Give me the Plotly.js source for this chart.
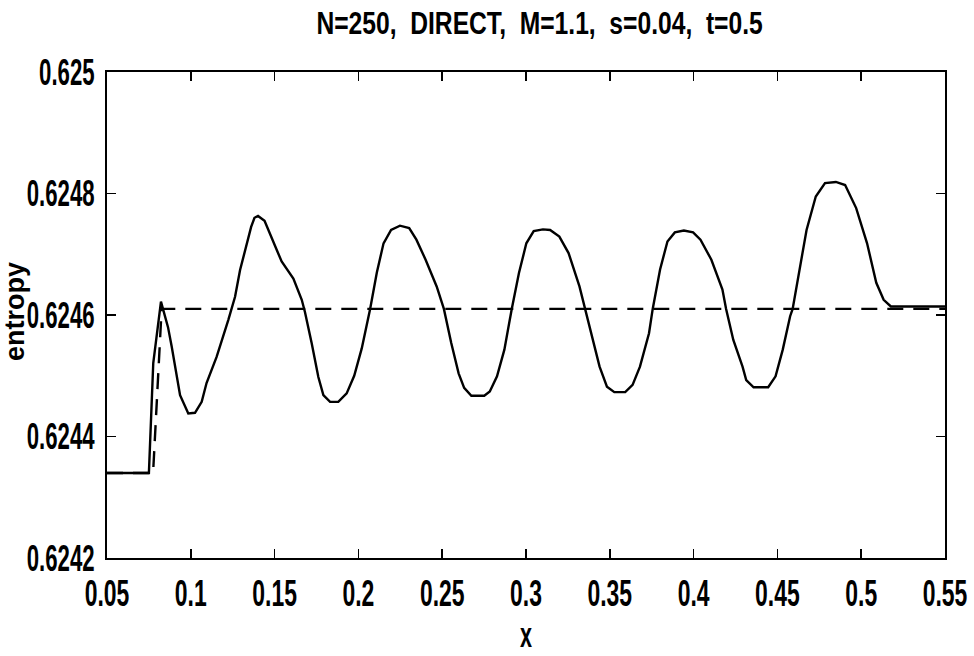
<!DOCTYPE html>
<html>
<head>
<meta charset="utf-8">
<script src="https://cdn.plot.ly/plotly-3.0.1.min.js"></script>
<style>html,body{margin:0;padding:0;background:#fff;}#chart{width:974px;height:656px;}</style>
</head>
<body>
<div id="chart"></div>
<script>
// Solid curve (computed entropy)
const solidX = [0.05, 0.075, 0.0776, 0.0822, 0.0864, 0.0886, 0.0936, 0.0985, 0.1025, 0.1065, 0.1094, 0.1154, 0.1224, 0.1264, 0.1294, 0.1323, 0.1360, 0.1380, 0.1401, 0.1440, 0.1480, 0.1513, 0.1542, 0.1580, 0.1612, 0.1662, 0.1681, 0.1721, 0.1761, 0.1791, 0.1831, 0.1880, 0.1930, 0.1975, 0.2020, 0.2070, 0.2110, 0.2150, 0.2195, 0.2248, 0.2303, 0.2346, 0.2401, 0.2467, 0.2510, 0.2554, 0.2598, 0.2631, 0.2674, 0.2751, 0.2784, 0.2827, 0.2871, 0.2915, 0.2958, 0.3002, 0.3046, 0.3101, 0.3144, 0.3199, 0.3254, 0.3319, 0.3352, 0.3396, 0.3439, 0.3483, 0.3527, 0.3592, 0.3636, 0.3680, 0.3734, 0.3756, 0.3800, 0.3844, 0.3888, 0.3942, 0.3997, 0.4041, 0.4106, 0.4172, 0.4194, 0.4237, 0.4292, 0.4314, 0.4358, 0.4445, 0.4489, 0.4532, 0.4576, 0.4591, 0.4631, 0.4674, 0.4729, 0.4784, 0.4849, 0.4904, 0.4970, 0.5035, 0.5090, 0.5134, 0.5177, 0.5308, 0.55];
const solidY = [0.62434, 0.62434, 0.624521, 0.624622, 0.624580, 0.624548, 0.624468, 0.624438, 0.624439, 0.624457, 0.624488, 0.624531, 0.624592, 0.624630, 0.624674, 0.624707, 0.624745, 0.624760, 0.624763, 0.624755, 0.624730, 0.624707, 0.624688, 0.624672, 0.624660, 0.624625, 0.624605, 0.624554, 0.624498, 0.624468, 0.624457, 0.624457, 0.624471, 0.624500, 0.624545, 0.624610, 0.624670, 0.624718, 0.624740, 0.624747, 0.624743, 0.624724, 0.624691, 0.624647, 0.624610, 0.624554, 0.624504, 0.624480, 0.624467, 0.624467, 0.624474, 0.624499, 0.624543, 0.624610, 0.624669, 0.624718, 0.624738, 0.624741, 0.624740, 0.624729, 0.624702, 0.624647, 0.624610, 0.624559, 0.624515, 0.624482, 0.624473, 0.624473, 0.624485, 0.624515, 0.624570, 0.624610, 0.624675, 0.624721, 0.624736, 0.624739, 0.624736, 0.624724, 0.624691, 0.624642, 0.624610, 0.624559, 0.624515, 0.624493, 0.624481, 0.624481, 0.624499, 0.624543, 0.624598, 0.624610, 0.624675, 0.624740, 0.624795, 0.624817, 0.624819, 0.624814, 0.624776, 0.624718, 0.624653, 0.624625, 0.624614, 0.624614, 0.624614];
// Dashed curve (exact solution)
const dashX = [0.05, 0.0775, 0.0826, 0.55];
const dashY = [0.62434, 0.62434, 0.62461, 0.62461];
// Ticks
const xTicks = [0.05, 0.1, 0.15, 0.2, 0.25, 0.3, 0.35, 0.4, 0.45, 0.5, 0.55];
const xTickText = ['0.05', '0.1', '0.15', '0.2', '0.25', '0.3', '0.35', '0.4', '0.45', '0.5', '0.55'];
const yTicks = [0.6242, 0.6244, 0.6246, 0.6248, 0.625];
const yTickText = ['0.6242', '0.6244', '0.6246', '0.6248', '0.625'];

const sans = 'Liberation Sans, Arial, Helvetica, sans-serif';
const traces = [
  {x: solidX, y: solidY, mode: 'lines', line: {color: '#000', width: 2.4}, hoverinfo: 'skip'},
  {x: dashX, y: dashY, mode: 'lines', line: {color: '#000', width: 2.4, dash: '16px,10px'}, hoverinfo: 'skip'}
];
const layout = {
  width: 974, height: 656,
  margin: {l: 107, r: 29, t: 72, b: 98},
  paper_bgcolor: '#fff', plot_bgcolor: '#fff',
  showlegend: false,
  title: {text: 'N=250,\u00a0\u00a0DIRECT,\u00a0\u00a0M=1.1,\u00a0\u00a0s=0.04,\u00a0\u00a0t=0.5',
          font: {family: sans, size: 32, color: '#000', weight: 'bold'},
          x: 0.554, xref: 'container', xanchor: 'center', y: 0.965, yanchor: 'middle'},
  xaxis: {range: [0.05, 0.5500001], tickvals: xTicks, ticktext: xTickText,
          ticks: 'inside', ticklen: 9, tickwidth: 1.5, tickcolor: '#000',
          showline: true, linecolor: '#000', linewidth: 2, mirror: 'ticks',
          showgrid: false, zeroline: false, ticklabelstandoff: 2, ticklabeloverflow: 'allow',
          tickfont: {family: sans, size: 37, color: '#000', weight: 'bold'},
          title: {text: 'x', font: {family: sans, size: 36, color: '#000', weight: 'bold'}, standoff: 6}},
  yaxis: {range: [0.6242, 0.625], tickvals: yTicks, ticktext: yTickText,
          ticks: 'inside', ticklen: 9, tickwidth: 1.5, tickcolor: '#000',
          showline: true, linecolor: '#000', linewidth: 2, mirror: 'ticks',
          showgrid: false, zeroline: false, ticklabelstandoff: 3, ticklabeloverflow: 'allow',
          tickfont: {family: sans, size: 37, color: '#000', weight: 'bold'}},
  annotations: [{text: 'entropy', textangle: -90, xref: 'paper', yref: 'paper',
                 x: (15 - 107) / 838, y: (558 - 312) / 486, xanchor: 'center', yanchor: 'middle',
                 showarrow: false, font: {family: sans, size: 27, color: '#000', weight: 'bold'}}]
};
function squeeze(sel, sx) {
  document.querySelectorAll(sel).forEach(function (t) {
    const x = parseFloat(t.getAttribute('x')) || 0;
    const y = parseFloat(t.getAttribute('y')) || 0;
    const base = t.getAttribute('transform') || '';
    t.setAttribute('transform', base + ' translate(' + x + ',' + y + ') scale(' + sx + ',1) translate(' + (-x) + ',' + (-y) + ')');
  });
}
Plotly.newPlot('chart', traces, layout, {displayModeBar: false, staticPlot: true}).then(function () {
  squeeze('.xtick text', 0.62);
  squeeze('.ytick text', 0.6);
  squeeze('.gtitle', 0.77);
  squeeze('.xtitle', 0.6);
});
</script>
</body>
</html>
